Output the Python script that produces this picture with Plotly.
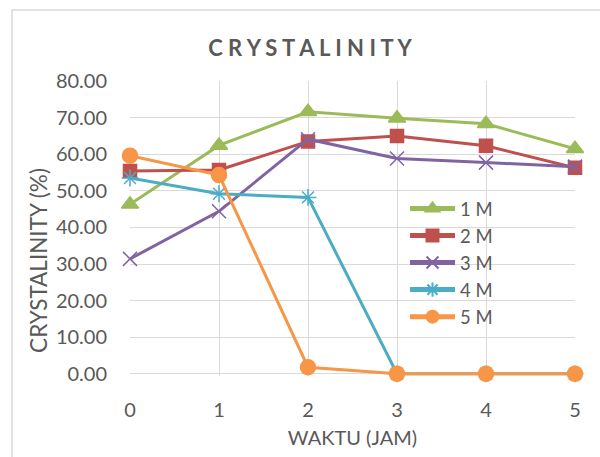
import plotly.graph_objects as go

# Time (hours)
waktu = [0, 1, 2, 3, 4, 5]

# Crystallinity (%) per concentration
series_names = ["1 M", "2 M", "3 M", "4 M", "5 M"]
m1 = [46.3, 62.4, 71.6, 69.8, 68.3, 61.5]
m2 = [55.4, 55.7, 63.5, 65.0, 62.3, 56.3]
m3 = [31.4, 44.4, 64.1, 58.8, 57.7, 56.6]
m4 = [53.5, 49.2, 48.2, 0.0, 0.0, 0.0]
m5 = [59.6, 54.3, 1.8, 0.0, 0.0, 0.0]

y_ticks = [0, 10, 20, 30, 40, 50, 60, 70, 80]

colors = ["#9BBB59", "#C0504D", "#8064A2", "#4BACC6", "#F79646"]
symbols = ["triangle-up", "square", "x-thin-open", "asterisk-open", "circle"]
sizes = [15, 13, 14, 14, 15]

FONT = "Lato, 'Open Sans', sans-serif"
GRAY = "#595959"
GRID = "#D9D9D9"

fig = go.Figure()
for name, vals, c, s, sz in zip(series_names, [m1, m2, m3, m4, m5], colors, symbols, sizes):
    fig.add_trace(go.Scatter(
        x=waktu, y=vals, name=name, mode="lines+markers",
        line=dict(color=c, width=3),
        marker=dict(symbol=s, size=sz, color=c, line=dict(color=c, width=1.5)),
        cliponaxis=False,
    ))

W, H = 600, 457
# small padding below zero so the lines along y=0 are not half clipped
Y_LO, Y_HI = -0.6, 80.0
L, R, T = 130, 25, 81
zero_px = 374
ph = (zero_px - T) * (Y_HI - Y_LO) / Y_HI
B = H - T - ph
pw = W - L - R

def px_x(p):
    return (p - L) / pw

def px_y(p):
    return (H - B - p) / ph

# Chart border
fig.add_shape(type="rect", xref="paper", yref="paper",
              x0=px_x(12), x1=px_x(640), y0=px_y(500), y1=px_y(10),
              line=dict(color=GRID, width=1.5), fillcolor="rgba(0,0,0,0)", layer="below")

# Vertical axis title
fig.add_annotation(text="CRYSTALINITY (%)", xref="paper", yref="paper",
                   x=px_x(39), y=px_y(261), xanchor="center", yanchor="middle",
                   textangle=-90, showarrow=False,
                   font=dict(size=22.5, color=GRAY, family=FONT))

fig.update_layout(
    width=W, height=H,
    margin=dict(l=L, r=R, t=T, b=B),
    paper_bgcolor="white", plot_bgcolor="white",
    font=dict(family=FONT, color=GRAY, size=20),
    title=dict(text="<b>C R Y S T A L I N I T Y</b>", x=px_x(310), xref="paper",
               xanchor="center", y=1 - 48 / H, yanchor="middle",
               font=dict(size=22, color=GRAY, family=FONT)),
    xaxis=dict(range=[0, 5], tickmode="array", tickvals=waktu, ticktext=[str(v) for v in waktu],
               showgrid=True, gridcolor=GRID, gridwidth=1, zeroline=False,
               showline=False, ticks="outside", ticklen=16, tickcolor="rgba(0,0,0,0)",
               tickfont=dict(size=20, color=GRAY),
               title=dict(text="WAKTU (JAM)", font=dict(size=20, color=GRAY), standoff=10)),
    yaxis=dict(range=[Y_LO, Y_HI], tickmode="array", tickvals=y_ticks,
               ticktext=[f"{v:.2f}" for v in y_ticks],
               showgrid=True, gridcolor=GRID, gridwidth=1, zeroline=False,
               showline=False, ticks="outside", ticklen=18, tickcolor="rgba(0,0,0,0)",
               tickfont=dict(size=20, color=GRAY)),
    legend=dict(x=px_x(405), y=px_y(190), xanchor="left", yanchor="top",
                bgcolor="rgba(0,0,0,0)", font=dict(size=18.5, color=GRAY),
                tracegroupgap=0, itemsizing="constant", itemwidth=45),
    showlegend=True,
)

fig.write_html("out.html")
